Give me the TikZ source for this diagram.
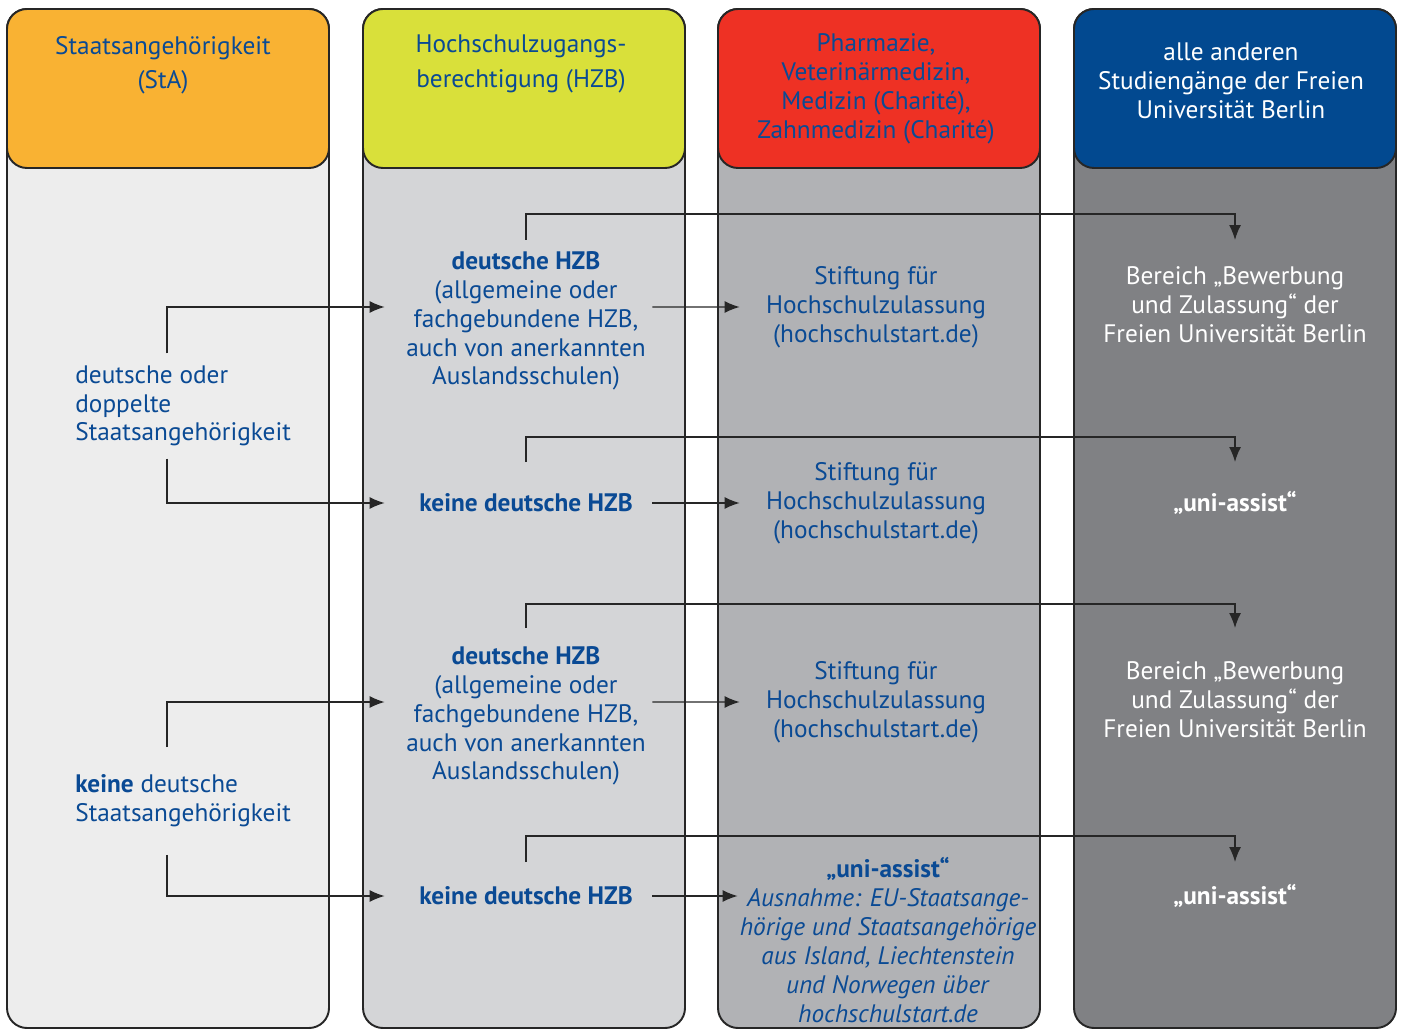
\documentclass[tikz,border=0pt]{standalone}
\usepackage{fontspec}
\setmainfont{PT Sans}
\usepackage{tikz}
\usetikzlibrary{arrows.meta}

\definecolor{fublau}{HTML}{0A4A94}
\definecolor{stakopf}{HTML}{F9B233}
\definecolor{stagrund}{HTML}{EDEDED}
\definecolor{hzbkopf}{HTML}{D9E03A}
\definecolor{hzbgrund}{HTML}{D4D5D7}
\definecolor{medkopf}{HTML}{EE3124}
\definecolor{medgrund}{HTML}{B1B2B5}
\definecolor{fukopf}{HTML}{024990}
\definecolor{fugrund}{HTML}{808184}

\tikzset{
  spalte/.style={draw=black!85, line width=1.1pt, rounded corners=.4cm},
  txt/.style={text=fublau, align=center, inner ysep=.2cm, inner xsep=0pt,
    font=\fontsize{14.4}{16.4}\selectfont},
  kopf/.style={txt, font=\fontsize{14.4}{19.6}\selectfont},
  weiss/.style={txt, text=white},
  arr/.style={draw=black!85, line width=.8pt, -{Latex[length=.3cm,width=.24cm]}},
}

\begin{document}
\begin{tikzpicture}[x=.02cm,y=-.02cm]
\useasboundingbox (0,0) rectangle (1402,1030);
% Spalten
\foreach \x/\kopf/\grund in {7/stakopf/stagrund, 363/hzbkopf/hzbgrund, 718/medkopf/medgrund, 1074/fukopf/fugrund}{
\draw[spalte, fill=\grund] (\x,9) rectangle ++(322,1019);
\draw[spalte, fill=\kopf] (\x,9) rectangle ++(322,159);}

% Kopfzeilen
\node[kopf] (k1) at (163,65) {Staatsangehörigkeit\\(StA)};
\node[kopf] (k2) at (521,64) {Hochschulzugangs-\\berechtigung (HZB)};
\node[txt] (k3) at (876,89) {Pharmazie,\\Veterinärmedizin,\\Medizin (Charité),\\Zahnmedizin (Charité)};
\node[weiss] (k4) at (1231,81) {alle anderen\\Studiengänge der Freien\\Universität Berlin};

% Staatsangehoerigkeit
\node[txt, align=left, anchor=west, inner ysep=.24cm] (sta1) at (75,406) {deutsche oder\\doppelte\\Staatsangehörigkeit};
\node[txt, align=left, anchor=west, inner ysep=.55cm] (sta2) at (75,801) {\textbf{keine} deutsche\\Staatsangehörigkeit};
\coordinate (stem) at (167,0);

% HZB
\node[txt, minimum width=5.04cm] (hzb1) at (526,321) {\textbf{deutsche HZB}\\(allgemeine oder\\fachgebundene HZB,\\auch von anerkannten\\Auslandsschulen)};
\node[txt, minimum width=5.04cm] (hzb2) at (526,503) {\textbf{keine deutsche HZB}};
\node[txt, minimum width=5.04cm] (hzb3) at (526,716) {\textbf{deutsche HZB}\\(allgemeine oder\\fachgebundene HZB,\\auch von anerkannten\\Auslandsschulen)};
\node[txt, minimum width=5.04cm] (hzb4) at (526,896) {\textbf{keine deutsche HZB}};

% Stiftung / uni-assist
\node[txt, minimum width=5.44cm] (sf1) at (876,307) {Stiftung für\\Hochschulzulassung\\(hochschulstart.de)};
\node[txt, minimum width=5.44cm] (sf2) at (876,503) {Stiftung für\\Hochschulzulassung\\(hochschulstart.de)};
\node[txt, minimum width=5.44cm] (sf3) at (876,702) {Stiftung für\\Hochschulzulassung\\(hochschulstart.de)};
\node[txt, inner xsep=1pt] (sf4) at (888,940) {\textbf{„uni-assist“}\\\textit{Ausnahme: EU-Staatsange-}\\\textit{hörige und Staatsangehörige}\\\textit{aus Island, Liechtenstein}\\\textit{und Norwegen über}\\\textit{hochschulstart.de}};

% Freie Universitaet
\node[weiss] (ba1) at (1235,305) {Bereich „Bewerbung\\und Zulassung“ der\\Freien Universität Berlin};
\node[weiss] (ba2) at (1235,503) {\textbf{„uni-assist“}};
\node[weiss] (ba3) at (1235,700) {Bereich „Bewerbung\\und Zulassung“ der\\Freien Universität Berlin};
\node[weiss] (ba4) at (1235,896) {\textbf{„uni-assist“}};

% Pfeile
\draw[arr, shorten >=.3cm] (sta1.north -| stem) |- ([yshift=.28cm]hzb1.west);
\draw[arr, shorten >=.3cm] (sta1.south -| stem) |- (hzb2.west);
\draw[arr, shorten >=.3cm] (sta2.north -| stem) |- ([yshift=.28cm]hzb3.west);
\draw[arr, shorten >=.3cm] (sta2.south -| stem) |- (hzb4.west);
\draw[arr] ([yshift=.28cm]hzb1.east) -- (sf1.west);
\draw[arr] (hzb2.east) -- (sf2.west);
\draw[arr] ([yshift=.28cm]hzb3.east) -- (sf3.west);
\draw[arr] (hzb4.east) -- (hzb4.east -| sf4.west);
\foreach \n/\ya/\yb in {1/240/214, 2/462/437, 3/628/604, 4/862/836}
  \draw[arr] (hzb\n.center |- 0,\ya) -- (hzb\n.center |- 0,\yb) -| (ba\n.center |- 0,\ya);
\end{tikzpicture}
\end{document}
